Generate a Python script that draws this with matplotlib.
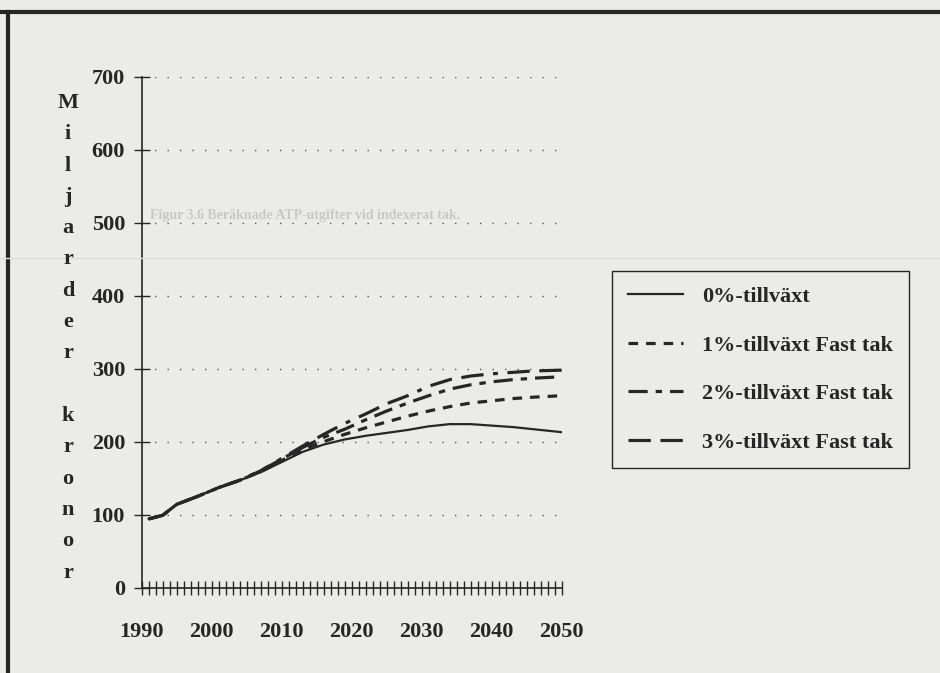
import matplotlib.pyplot as plt
from matplotlib.lines import Line2D

# ATP-utgifter, miljarder kronor
years = [1991, 1993, 1995, 1998, 2001, 2004, 2007, 2010, 2013, 2016, 2019,
         2022, 2025, 2028, 2031, 2034, 2037, 2040, 2043, 2046, 2050]
g0 = [94, 99, 114, 125, 137, 147, 158, 172, 186, 196, 203,
      208, 212, 216, 221, 224, 224, 222, 220, 217, 213]
g1 = [94, 99, 114, 125, 137, 147, 159, 174, 189, 200, 210,
      219, 227, 235, 242, 248, 253, 256, 259, 261, 263]
g2 = [94, 99, 114, 125, 137, 147, 160, 176, 192, 206, 217,
      230, 242, 253, 263, 272, 278, 282, 285, 287, 289]
g3 = [94, 99, 114, 125, 137, 147, 160, 177, 194, 210, 225,
      238, 252, 263, 276, 285, 290, 293, 295, 297, 298]

labels = ["0%-tillväxt", "1%-tillväxt Fast tak",
          "2%-tillväxt Fast tak", "3%-tillväxt Fast tak"]
ylabel_words = ["Miljarder", "kronor"]

paper = "#ebebe9"
ink = "#262626"
plt.rcParams["font.family"] = ["Liberation Serif", "DejaVu Serif"]
plt.rcParams["font.weight"] = "bold"

fig = plt.figure(figsize=(9.4, 6.73), dpi=100, facecolor=paper)
W, H = 940, 673

# ram runt sidan (vänster + överkant) och svag genomlysning
fig.add_artist(Line2D([0, 1], [1 - 12 / H, 1 - 12 / H], color=ink, lw=3))
fig.add_artist(Line2D([8 / W, 8 / W], [0, 1 - 12 / H], color=ink, lw=3))
fig.add_artist(Line2D([0, 1], [1 - 258 / H, 1 - 258 / H], color="#dedede", lw=1))

fig.text(150 / W, 1 - 216 / H, "Figur 3.6 Beräknade ATP-utgifter vid indexerat tak.",
         fontsize=10, color="#c8c8c8", va="center")

ax = fig.add_axes([141.7 / W, 1 - 587.5 / H, 420 / W, 510.5 / H])
ax.set_facecolor("none")

styles = ["-", (0, (3, 2.5)), (0, (6, 2.5, 2, 2.5)), (0, (7, 3, 7, 3, 1.5, 3))]
widths = [1.6, 2.3, 2.3, 2.3]
for ys, lab, ls, lw in zip([g0, g1, g2, g3], labels, styles, widths):
    ax.plot(years, ys, color=ink, linestyle=ls, lw=lw, label=lab)

ax.set_xlim(1990, 2050)
ax.set_ylim(0, 700)
ax.set_xticks(range(1990, 2051, 10))
ax.set_xticks(range(1990, 2051), minor=True)
ax.set_yticks(range(0, 701, 100))
ax.grid(axis="y", linestyle=(0, (1, 8)), lw=1, color="#555555")
for s in ["top", "right"]:
    ax.spines[s].set_visible(False)
for s in ["left", "bottom"]:
    ax.spines[s].set_color(ink)
    ax.spines[s].set_linewidth(1.2)
ax.tick_params(axis="x", which="both", direction="inout", length=10,
               width=1, color=ink, pad=20, labelsize=16, labelcolor=ink)
ax.tick_params(axis="y", direction="inout", length=12, width=1, color=ink,
               pad=6, labelsize=16, labelcolor=ink)

# y-etikett, en bokstav per rad
slot = 0
for word in ylabel_words:
    for ch in word:
        fig.text(68 / W, 1 - (103 + 31.3 * slot) / H, ch, fontsize=16,
                 color=ink, ha="center", va="center")
        slot += 1
    slot += 1

leg = ax.legend(loc="upper left", bbox_to_anchor=(612 / W, 1 - 271 / H),
                bbox_transform=fig.transFigure, fontsize=16, frameon=True,
                fancybox=False, edgecolor=ink, facecolor=paper, framealpha=1,
                handlelength=2.5, handletextpad=0.85, labelspacing=1.26,
                borderpad=0.7, borderaxespad=0)
leg.get_frame().set_linewidth(1)
for t in leg.get_texts():
    t.set_color(ink)

fig.savefig("out.png", dpi=100, facecolor=paper)
